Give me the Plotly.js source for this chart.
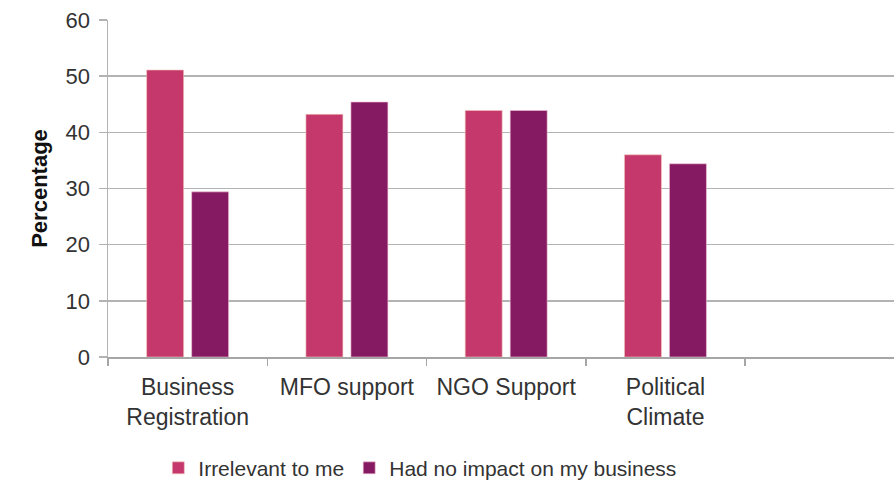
<!DOCTYPE html>
<html><head><meta charset="utf-8">
<script src="https://cdn.plot.ly/plotly-3.0.1.min.js"></script>
<style>html,body{margin:0;padding:0;background:#fff}#chart{width:894px;height:488px}</style>
</head><body><div id="chart"></div>
<script>
const categories = ["Business<br>Registration", "MFO support", "NGO Support", "Political<br>Climate", " "];
const irrelevant = [51.1, 43.2, 43.9, 36.0, null];
const noImpact = [29.4, 45.4, 43.9, 34.4, null];
const seriesNames = ["Irrelevant to me", "Had no impact on my business"];
const yTicks = [0, 10, 20, 30, 40, 50, 60];

const traces = [
  {type: 'bar', name: seriesNames[0], x: categories, y: irrelevant,
   marker: {color: '#C4386B', line: {color: '#F2C6B8', width: 0.6}}},
  {type: 'bar', name: seriesNames[1], x: categories, y: noImpact,
   marker: {color: '#861A62', line: {color: '#F2C6D8', width: 0.6}}}
];
const layout = {
  width: 894, height: 488,
  margin: {l: 108, r: 0, t: 20, b: 131, autoexpand: false},
  paper_bgcolor: '#fff', plot_bgcolor: '#fff',
  barmode: 'group', bargap: 0.435, bargroupgap: 0.178,
  font: {family: 'Liberation Sans, Arial, sans-serif', color: '#333'},
  xaxis: {type: 'category', range: [-0.5, 4.435], tickson: 'boundaries', automargin: false,
          ticks: 'outside', ticklen: 7, tickcolor: '#a6a6a6', tickwidth: 1.5,
          showline: true, linecolor: '#a6a6a6', linewidth: 1.5, ticklabelstandoff: 9,
          tickfont: {size: 23, color: '#333'}, showgrid: false, fixedrange: true},
  yaxis: {range: [0, 60], tickvals: yTicks, ticks: 'outside', ticklen: 8, automargin: false,
          tickcolor: '#b3b3b3', tickwidth: 1.5, ticklabelstandoff: 4,
          showline: true, linecolor: '#b3b3b3', linewidth: 1.5,
          showgrid: true, gridcolor: '#b3b3b3', gridwidth: 1.5, zeroline: false,
          tickfont: {size: 22, color: '#333'},
          title: {text: '<b>Percentage</b>', font: {size: 22, color: '#111'}, standoff: 12}},
  legend: {orientation: 'h', x: 0.064, xanchor: 'left', y: -0.33, yanchor: 'middle',
           font: {size: 21, color: '#333'}, traceorder: 'normal', itemwidth: 30},
  showlegend: true
};
Plotly.newPlot('chart', traces, layout, {displayModeBar: false, staticPlot: true});
</script></body></html>
